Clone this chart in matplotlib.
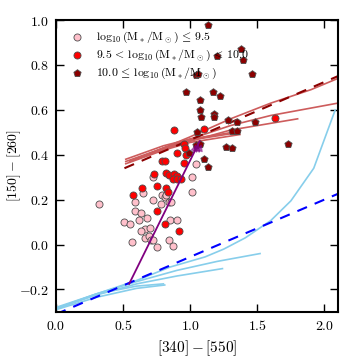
import matplotlib
matplotlib.use("Agg")
import matplotlib.pyplot as plt
from matplotlib.ticker import FuncFormatter, MultipleLocator

plt.rcParams['mathtext.fontset'] = 'cm'
plt.rcParams['font.family'] = 'serif'

# low mass galaxies (pink circles)
low_x = [0.32, 0.72, 1.01, 1.04, 0.65, 0.59, 0.79, 0.81, 0.82, 0.84, 0.78, 0.72,
         1.01, 0.59, 0.63, 0.68, 0.62, 0.51, 0.55, 0.85, 0.90, 0.66, 0.70, 0.63,
         0.66, 0.69, 0.57, 0.71, 0.72, 0.75, 0.84, 0.87, 0.86]
low_y = [0.18, 0.30, 0.30, 0.36, 0.23, 0.19, 0.22, 0.21, 0.22, 0.19, 0.18, 0.20,
         0.235, 0.15, 0.14, 0.12, 0.11, 0.10, 0.09, 0.11, 0.11, 0.07, 0.075, 0.06,
         0.03, 0.04, 0.01, 0.02, 0.02, -0.01, 0.02, -0.005, 0.19]

# intermediate mass (red circles)
mid_x = [0.88, 0.90, 0.955, 0.96, 0.97, 0.79, 0.81, 0.955, 0.82, 0.84, 0.88, 0.90,
         0.87, 0.90, 0.93, 0.73, 0.575, 0.64, 0.75, 0.82, 0.835, 0.75, 0.81, 0.92,
         1.10, 1.63]
mid_y = [0.51, 0.41, 0.45, 0.43, 0.40, 0.37, 0.37, 0.365, 0.32, 0.31, 0.315, 0.305,
         0.29, 0.29, 0.29, 0.315, 0.22, 0.25, 0.26, 0.25, 0.235, 0.15, 0.09, 0.06,
         0.515, 0.565]

# high mass (dark red pentagons)
high_x = [1.13, 1.38, 1.20, 1.39, 1.04, 1.06, 1.46, 0.97, 1.17, 1.22, 1.07, 1.07,
          1.08, 1.18, 1.18, 1.28, 1.35, 1.48, 1.73, 1.05, 1.31, 1.35, 1.27, 1.31,
          1.10, 1.13, 0.99, 1.04, 1.07]
high_y = [0.98, 0.87, 0.84, 0.82, 0.755, 0.76, 0.76, 0.68, 0.68, 0.66, 0.645, 0.60,
          0.57, 0.58, 0.57, 0.555, 0.545, 0.545, 0.45, 0.50, 0.505, 0.505, 0.435, 0.43,
          0.38, 0.345, 0.41, 0.445, 0.45]

# model tracks, blue (young) family
blue_tracks = [
    ([0.0, 0.3, 0.6, 0.85, 1.11, 1.25, 1.41, 1.6, 1.75, 1.92, 2.08],
     [-0.285, -0.22, -0.16, -0.10, -0.055, -0.02, 0.03, 0.107, 0.195, 0.34, 0.60]),
    ([0.0, 0.3, 0.6, 0.9, 1.2, 1.52],
     [-0.285, -0.22, -0.165, -0.115, -0.075, -0.04]),
    ([0.0, 0.3, 0.6, 0.9, 1.24],
     [-0.285, -0.225, -0.175, -0.14, -0.107]),
    ([0.0, 0.3, 0.6, 0.81],
     [-0.29, -0.235, -0.195, -0.18]),
    ([0.0, 0.3, 0.6, 0.8],
     [-0.28, -0.22, -0.185, -0.175]),
]

# model tracks, red (old) family
red_tracks = [
    ([0.55, 0.8, 1.0, 1.3, 1.6, 1.9, 2.1], [0.37, 0.43, 0.48, 0.56, 0.63, 0.69, 0.74]),
    ([0.55, 0.8, 1.0, 1.3, 1.6, 2.1], [0.37, 0.43, 0.47, 0.53, 0.575, 0.63]),
    ([0.55, 0.8, 1.0, 1.3, 1.8], [0.37, 0.425, 0.46, 0.51, 0.56]),
    ([0.52, 0.8, 1.0, 1.37], [0.36, 0.42, 0.455, 0.49]),
    ([0.52, 0.8, 1.0, 1.37], [0.37, 0.43, 0.465, 0.50]),
    ([0.52, 0.8, 1.0, 1.37], [0.38, 0.44, 0.47, 0.505]),
]

blue_dash_x = [0.0, 2.1]
blue_dash_y = [-0.31, 0.226]
red_dash_x = [0.51, 2.1]
red_dash_y = [0.34, 0.75]

purple_x = [0.545, 1.07]
purple_y = [-0.175, 0.46]

fig = plt.figure(figsize=(3.52, 3.64), dpi=100)
ax = fig.add_axes([0.159, 0.143, 0.801, 0.802])

for tx, ty in blue_tracks:
    ax.plot(tx, ty, color='skyblue', lw=1.2, zorder=2)
for tx, ty in red_tracks:
    ax.plot(tx, ty, color='indianred', lw=1.2, zorder=2)

ax.plot(blue_dash_x, blue_dash_y, color='blue', lw=1.5, dashes=(5, 4), zorder=2)
ax.plot(red_dash_x, red_dash_y, color='darkred', lw=1.5, dashes=(5, 4), zorder=2)

ax.plot(purple_x, purple_y, color='purple', lw=1.3, zorder=4)
for dx in [-0.02, 0.0, 0.02]:
    ax.annotate('', xy=(purple_x[1] + dx, purple_y[1]),
                xytext=(purple_x[1] + dx - 0.03, purple_y[1] - 0.06),
                arrowprops=dict(arrowstyle='-|>', color='purple', alpha=0.5,
                                lw=1, mutation_scale=10), zorder=4)

ax.scatter(low_x, low_y, s=26, c='pink', edgecolors='0.3', linewidths=0.6, zorder=3,
           label=r'$\log_{10}(\mathrm{M_*/M_\odot})\,\leq\,9.5$')
ax.scatter(mid_x, mid_y, s=26, c='red', edgecolors='0.3', linewidths=0.6, zorder=3,
           label=r'$9.5\,<\,\log_{10}(\mathrm{M_*/M_\odot})\,<\,10.0$')
ax.scatter(high_x, high_y, s=30, c='darkred', marker='p', edgecolors='0.3',
           linewidths=0.6, zorder=3,
           label=r'$10.0\,\leq\,\log_{10}(\mathrm{M_*/M_\odot})$')

ax.set_xlim(0, 2.1)
ax.set_ylim(-0.3, 1.0)
ax.xaxis.set_major_locator(MultipleLocator(0.5))
ax.yaxis.set_major_locator(MultipleLocator(0.2))
fmt = FuncFormatter(lambda v, p: r'$%.1f$' % v)
ax.xaxis.set_major_formatter(fmt)
ax.yaxis.set_major_formatter(fmt)
ax.tick_params(direction='in', length=6, width=1, top=True, right=True, labelsize=10, pad=5)
for s in ax.spines.values():
    s.set_linewidth(1.5)

ax.set_xlabel(r'$[340]-[550]$', fontsize=11)
ax.set_ylabel(r'$[150]-[260]$', fontsize=10)
ax.yaxis.set_label_coords(-0.118, 0.5)

ax.legend(loc='upper left', frameon=False, fontsize=8.5, handletextpad=0.6,
          scatterpoints=1, borderaxespad=0.4, labelspacing=0.25)

fig.savefig('out.png', dpi=100)
